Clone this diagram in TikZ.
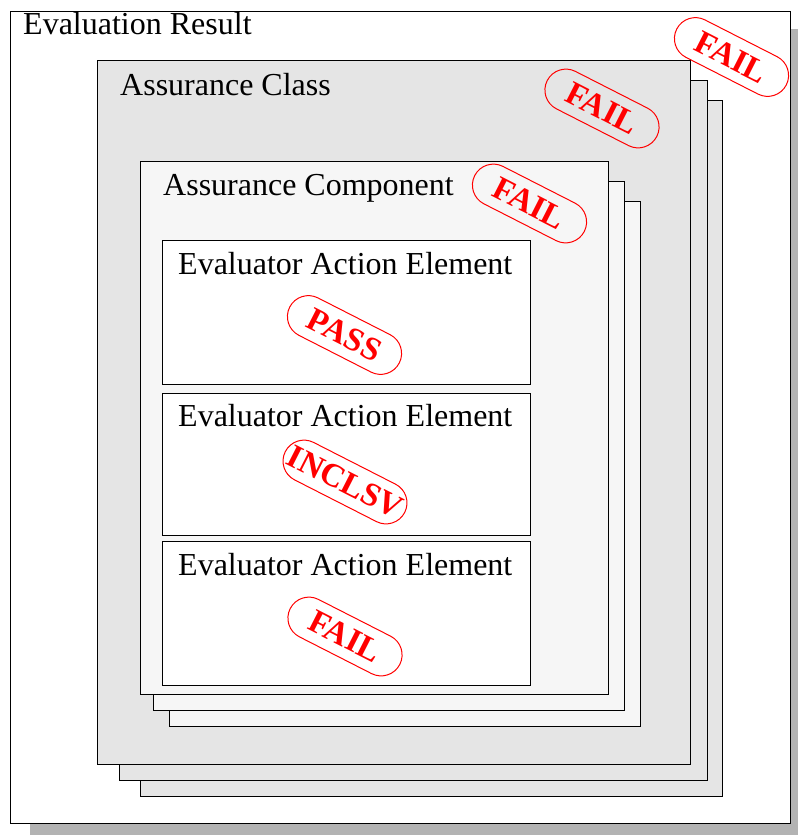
\documentclass[tikz,border=0pt]{standalone}
\usepackage{fontspec}
\setmainfont{Liberation Serif}

\definecolor{shadowgray}{RGB}{179,179,179}
\definecolor{classgray}{RGB}{229,229,229}
\definecolor{compgray}{RGB}{246,246,246}

\tikzset{
    box/.style={draw=black, line width=1pt},
    title/.style={anchor=base west, inner sep=0pt, font=\fontsize{32}{36}\selectfont},
    stamp/.style={draw=red, text=red, line width=1pt, rotate=-27, rounded corners=21pt,
        minimum width=123pt, minimum height=42pt, inner sep=0pt,
        font=\bfseries\fontsize{33}{33}\selectfont},
}

\begin{document}
\begin{tikzpicture}[x=1pt, y=-1pt]
    \useasboundingbox (0, 0) rectangle (798, 835);
    \fill [shadowgray] (30, 29) rectangle (798, 835);
    \draw [box, fill=white] (10, 11) rectangle (790, 823);
    \node [title] (result) at (23, 34) {Evaluation Result};

    \draw [box, fill=classgray] (140, 100) rectangle (722, 796);
    \draw [box, fill=classgray] (119, 80) rectangle (707, 780);
    \draw [box, fill=classgray] (97, 60) rectangle (690, 764);
    \node [title] (class) at (120, 95) {Assurance Class};

    \draw [box, fill=compgray] (169, 201) rectangle (640, 726);
    \draw [box, fill=compgray] (153, 181) rectangle (624, 710);
    \draw [box, fill=compgray] (140, 161) rectangle (608, 694);
    \node [title] (component) at (163, 195) {Assurance Component};

    \draw [box, fill=white] (162, 240) rectangle (530, 384);
    \node [title] (element1) at (178, 274) {Evaluator Action Element};
    \draw [box, fill=white] (162, 393) rectangle (530, 535);
    \node [title] (element2) at (178, 426) {Evaluator Action Element};
    \draw [box, fill=white] (162, 541) rectangle (530, 685);
    \node [title] (element3) at (178, 575) {Evaluator Action Element};

    \node [stamp] (pass1) at (344.5, 335) {PASS};
    \node [stamp, minimum width=134pt] (inclsv2) at (345, 482) {INCLSV};
    \node [stamp] (fail3) at (345, 636.5) {FAIL};
    \node [stamp] (failcomp) at (529.5, 203.5) {FAIL};
    \node [stamp] (failclass) at (602, 108.5) {FAIL};
    \node [stamp] (failresult) at (731.5, 57) {FAIL};
\end{tikzpicture}
\end{document}
